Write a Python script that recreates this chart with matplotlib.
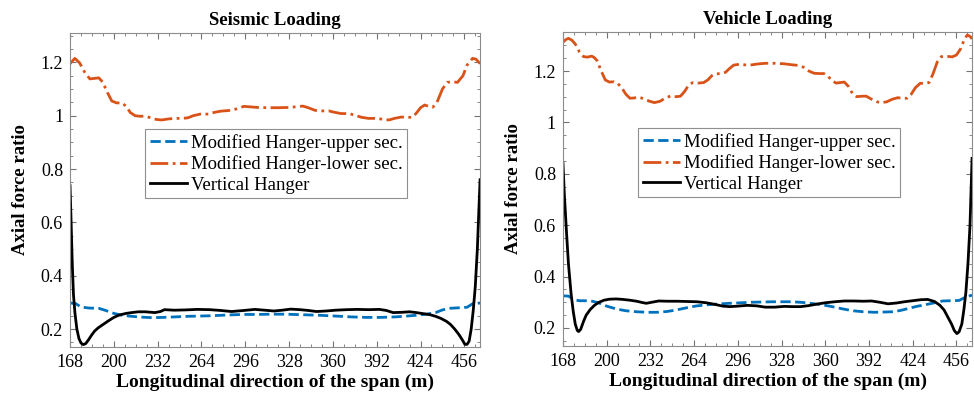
import matplotlib.pyplot as plt
from matplotlib.ticker import MultipleLocator

plt.rcParams['font.family'] = ['Liberation Serif', 'DejaVu Serif']

# ---- Seismic loading ----
seis_low_x = [168, 171.5, 175, 179, 182.5, 186, 189, 192, 195, 198.5, 202, 206, 209, 212, 215.5, 219,
              223, 227, 231, 235, 240, 245, 250, 254, 258, 263, 269, 273, 278, 285, 290, 295, 300, 305,
              312, 320, 328, 334, 338, 342, 347, 352, 357, 361, 366, 372, 377, 381, 386, 392, 397, 401,
              405, 410, 414, 418, 421, 424, 427, 430, 433, 436, 440, 443.5, 447, 451, 455, 458, 462,
              464.5, 467.5]
seis_low_y = [1.195, 1.215, 1.198, 1.16, 1.138, 1.14, 1.142, 1.125, 1.09, 1.055, 1.048, 1.048, 1.035,
              1.012, 1.0, 0.998, 0.998, 0.992, 0.986, 0.984, 0.988, 0.99, 0.99, 0.992, 1.0, 1.006, 1.006,
              1.012, 1.017, 1.02, 1.026, 1.035, 1.033, 1.031, 1.03, 1.03, 1.031, 1.034, 1.036, 1.03, 1.02,
              1.018, 1.018, 1.013, 1.008, 1.008, 1.0, 0.994, 0.99, 0.99, 0.986, 0.984, 0.99, 0.995, 0.994,
              0.994, 1.01, 1.03, 1.04, 1.035, 1.032, 1.05, 1.1, 1.125, 1.127, 1.125, 1.15, 1.19, 1.215,
              1.212, 1.195]

seis_up_x = [168, 172, 176, 182, 189, 194, 200, 206, 213, 220, 228, 236, 245, 254, 262, 270, 279, 288,
             296, 305, 315, 325, 338, 350, 362, 373, 384, 395, 406, 414, 421, 428, 435, 440, 445, 452,
             458, 462, 467.5]
seis_up_y = [0.298, 0.296, 0.283, 0.279, 0.278, 0.27, 0.259, 0.252, 0.248, 0.245, 0.243, 0.244, 0.246,
             0.248, 0.249, 0.25, 0.252, 0.254, 0.255, 0.255, 0.256, 0.256, 0.254, 0.252, 0.249, 0.246,
             0.244, 0.244, 0.246, 0.249, 0.252, 0.256, 0.262, 0.272, 0.278, 0.28, 0.282, 0.295, 0.298]

seis_vert_x = [168, 168.8, 169.6, 170.5, 171.6, 173, 174.5, 176, 177.7, 179.5, 181.5, 183.8, 186, 188.6,
               192, 196, 200, 204, 209, 213, 218, 223, 230, 234, 237, 244, 252, 261, 270, 278, 286, 295,
               303, 310, 317, 323, 329, 336, 342, 348, 355, 362, 370, 378, 386, 394, 399, 404, 410, 416,
               421, 426, 431, 435, 439, 443, 446, 449, 452, 454.5, 456.4, 458, 459.5, 461, 462.5, 464,
               465.5, 467.5]
seis_vert_y = [0.738, 0.6, 0.45, 0.33, 0.26, 0.2, 0.165, 0.148, 0.142, 0.146, 0.16, 0.178, 0.193, 0.205,
               0.217, 0.231, 0.244, 0.253, 0.259, 0.262, 0.265, 0.265, 0.262, 0.266, 0.273, 0.271, 0.272,
               0.274, 0.273, 0.27, 0.266, 0.27, 0.274, 0.271, 0.268, 0.271, 0.275, 0.273, 0.27, 0.266,
               0.268, 0.271, 0.273, 0.274, 0.273, 0.274, 0.27, 0.262, 0.263, 0.265, 0.262, 0.258, 0.254,
               0.248, 0.24, 0.229, 0.217, 0.2, 0.18, 0.16, 0.143, 0.143, 0.155, 0.2, 0.27, 0.36, 0.5, 0.76]

# ---- Vehicle loading ----
veh_low_x = [168, 170, 172, 174.5, 177, 180, 183, 186, 189, 191, 193, 196, 199, 202, 205, 208, 211, 214,
             217, 220, 223, 227, 231, 235, 239, 243, 247, 251, 254, 257, 260, 263, 267, 271, 274, 277,
             280, 284, 287, 290, 293, 297, 301, 305, 310, 316, 323, 330, 336, 340, 344, 348, 352, 356,
             359, 362, 365, 368, 371, 374, 377, 380, 383, 387, 390, 394, 398, 401.5, 405, 409, 413, 417,
             420, 423, 426, 429.5, 433, 436, 439, 442, 445, 449, 453, 456, 459, 462, 464, 466, 467.5]
veh_low_y = [1.312, 1.322, 1.327, 1.32, 1.305, 1.275, 1.256, 1.254, 1.258, 1.252, 1.24, 1.2, 1.165,
             1.157, 1.158, 1.152, 1.135, 1.11, 1.094, 1.095, 1.098, 1.093, 1.083, 1.077, 1.082, 1.095,
             1.103, 1.1, 1.102, 1.12, 1.145, 1.155, 1.153, 1.155, 1.165, 1.182, 1.189, 1.19, 1.195, 1.21,
             1.223, 1.226, 1.224, 1.223, 1.227, 1.23, 1.23, 1.228, 1.224, 1.222, 1.215, 1.2, 1.191, 1.19,
             1.19, 1.18, 1.162, 1.153, 1.155, 1.157, 1.14, 1.112, 1.1, 1.102, 1.102, 1.09, 1.08, 1.077,
             1.08, 1.09, 1.096, 1.094, 1.094, 1.11, 1.135, 1.152, 1.152, 1.155, 1.19, 1.235, 1.256, 1.257,
             1.255, 1.262, 1.285, 1.325, 1.34, 1.335, 1.325]

veh_up_x = [168, 172, 176, 180, 188, 194, 200, 207, 214, 222, 230, 237, 244, 251, 258, 266, 273, 281,
            290, 298, 306, 314, 322, 330, 336, 344, 352, 358, 365, 372, 380, 388, 396, 403, 409, 415,
            421, 427, 433, 440, 446, 452, 458, 462, 467.5]
veh_up_y = [0.325, 0.324, 0.31, 0.306, 0.306, 0.298, 0.285, 0.274, 0.267, 0.263, 0.261, 0.261, 0.264,
            0.27, 0.278, 0.286, 0.29, 0.293, 0.296, 0.298, 0.3, 0.301, 0.302, 0.302, 0.302, 0.299, 0.294,
            0.29, 0.283, 0.275, 0.267, 0.263, 0.261, 0.262, 0.263, 0.268, 0.276, 0.284, 0.29, 0.298,
            0.305, 0.306, 0.307, 0.318, 0.328]

veh_vert_x = [168, 169, 170.5, 172, 174, 175.5, 177, 178.5, 179.5, 181, 183, 185, 188, 191, 194, 198,
              202, 207, 212, 217, 222, 226, 229, 233, 238, 245, 252, 259, 266, 273, 279, 285, 290, 296,
              303, 310, 316, 323, 330, 336, 342, 348, 354, 360, 367, 374, 381, 388, 394, 400, 406, 412,
              418, 424, 430, 435, 440, 444, 447, 450, 452.5, 454.5, 456.4, 458, 460, 461.5, 463, 464.5,
              466, 467.5]
veh_vert_y = [0.842, 0.72, 0.58, 0.45, 0.33, 0.265, 0.215, 0.19, 0.186, 0.195, 0.225, 0.25, 0.272, 0.288,
              0.299, 0.308, 0.312, 0.313, 0.311, 0.308, 0.304, 0.299, 0.296, 0.3, 0.305, 0.304, 0.304,
              0.303, 0.302, 0.298, 0.292, 0.285, 0.283, 0.285, 0.288, 0.286, 0.281, 0.281, 0.284, 0.283,
              0.283, 0.287, 0.293, 0.298, 0.302, 0.305, 0.305, 0.304, 0.305, 0.3, 0.294, 0.297, 0.302,
              0.306, 0.31, 0.311, 0.303, 0.288, 0.27, 0.24, 0.215, 0.19, 0.178, 0.185, 0.215, 0.27, 0.34,
              0.45, 0.6, 0.86]

x_ticks = [168, 200, 232, 264, 296, 328, 360, 392, 424, 456]
y_ticks = [0.2, 0.4, 0.6, 0.8, 1, 1.2]
y_tick_labels = ['0.2', '0.4', '0.6', '0.8', '1', '1.2']

blue = '#0072BD'
orange = '#D95319'

fig = plt.figure(figsize=(9.74, 4.07), dpi=100)
ax1 = fig.add_axes([0.0719, 0.1474, 0.421, 0.7715])
ax2 = fig.add_axes([0.578, 0.150, 0.420, 0.7715])

panels = [
    (ax1, 'Seismic Loading', seis_up_x, seis_up_y, seis_low_x, seis_low_y, seis_vert_x, seis_vert_y, (0.133, 1.31)),
    (ax2, 'Vehicle Loading', veh_up_x, veh_up_y, veh_low_x, veh_low_y, veh_vert_x, veh_vert_y, (0.13, 1.352)),
]

for ax, title, ux, uy, lx, ly, vx, vy, ylim in panels:
    ax.plot(ux, uy, color=blue, linestyle='--', linewidth=2, label='Modified Hanger-upper sec.')
    ax.plot(lx, ly, color=orange, linestyle='-.', linewidth=2, label='Modified Hanger-lower sec.')
    ax.plot(vx, vy, color='black', linestyle='-', linewidth=2, label='Vertical Hanger')
    ax.set_xlim(168, 467.5)
    ax.set_ylim(*ylim)
    ax.set_xticks(x_ticks)
    ax.set_yticks(y_ticks)
    ax.set_yticklabels(y_tick_labels)
    ax.xaxis.set_minor_locator(MultipleLocator(8))
    ax.yaxis.set_minor_locator(MultipleLocator(0.05))
    ax.tick_params(which='both', direction='in', top=True, right=True, colors='0.45',
                   labelcolor='black', labelsize=13)
    ax.tick_params(which='major', length=4, pad=5)
    ax.tick_params(which='minor', length=2)
    for s in ax.spines.values():
        s.set_color('0.55')
        s.set_linewidth(0.8)
    ax.set_title(title, fontsize=13.5, fontweight='bold', pad=6)
    ax.set_xlabel('Longitudinal direction of the span (m)', fontsize=14, fontweight='bold', labelpad=2)
    ax.set_ylabel('Axial force ratio', fontsize=13.5, fontweight='bold', labelpad=8)
    leg = ax.legend(loc='upper left', bbox_to_anchor=(0.183, 0.693), fontsize=13.5, frameon=True,
                    fancybox=False, borderpad=0.25, labelspacing=0.18, handlelength=2.0,
                    handletextpad=0.2, borderaxespad=0)
    leg.get_frame().set_edgecolor('0.45')
    leg.get_frame().set_linewidth(0.8)

plt.savefig('out.png', dpi=100)
